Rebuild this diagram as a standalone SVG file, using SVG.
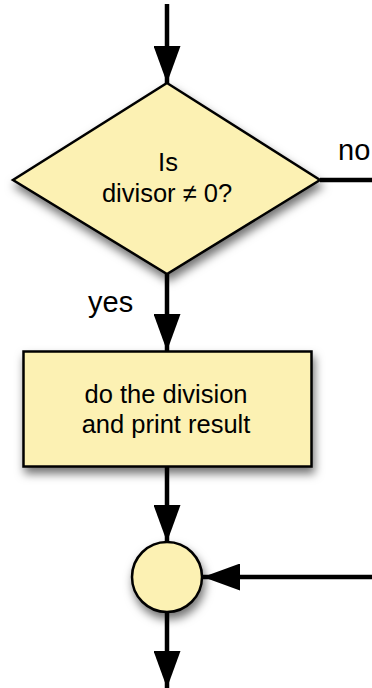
<svg xmlns="http://www.w3.org/2000/svg" width="372" height="688" viewBox="0 0 372 688">
  <defs>
    <filter id="shadow" x="-20%" y="-20%" width="150%" height="150%">
      <feDropShadow dx="2" dy="6" stdDeviation="5" flood-color="#000" flood-opacity="0.55"/>
    </filter>
    <marker id="arrow" viewBox="0 0 37 27" refX="37" refY="13.5" markerWidth="37" markerHeight="27" markerUnits="userSpaceOnUse" orient="auto">
      <path d="M0,0 L37,13.5 L0,27 Z" fill="#000"/>
    </marker>
  </defs>
  <style>
    .shape { fill: #FCF1B3; stroke: #000; stroke-width: 2.5; }
    .conn { stroke: #000; stroke-width: 4.5; fill: none; }
    .txt { font-family: "Liberation Sans", Arial, sans-serif; font-size: 25.5px; fill: #000; text-anchor: middle; }
    .lbl { font-family: "Liberation Sans", Arial, sans-serif; font-size: 29px; fill: #000; }
  </style>
  <rect width="372" height="688" fill="#fff"/>

  <g id="connectors">
    <path class="conn" d="M167,4 L167,83" marker-end="url(#arrow)"/>
    <path class="conn" d="M167,274 L167,351" marker-end="url(#arrow)"/>
    <path class="conn" d="M320,180 L372,180"/>
    <path class="conn" d="M167,467 L167,542" marker-end="url(#arrow)"/>
    <path class="conn" d="M372,577 L203,577" marker-end="url(#arrow)"/>
    <path class="conn" d="M167,612 L167,688" marker-end="url(#arrow)"/>
  </g>

  <g id="decision">
    <polygon class="shape" filter="url(#shadow)" points="167,83 320,180 167,274 13,180"/>
    <text class="txt" x="168" y="171">Is</text>
    <text class="txt" x="167" y="202">divisor ≠ 0?</text>
  </g>

  <g id="process">
    <rect class="shape" filter="url(#shadow)" x="23.5" y="351.5" width="288" height="115"/>
    <text class="txt" x="166" y="403">do the division</text>
    <text class="txt" x="166" y="433">and print result</text>
  </g>

  <g id="junction">
    <circle class="shape" filter="url(#shadow)" cx="167" cy="577" r="35"/>
  </g>

  <g id="labels">
    <text class="lbl" x="338" y="160">no</text>
    <text class="lbl" x="88" y="312">yes</text>
  </g>
</svg>
